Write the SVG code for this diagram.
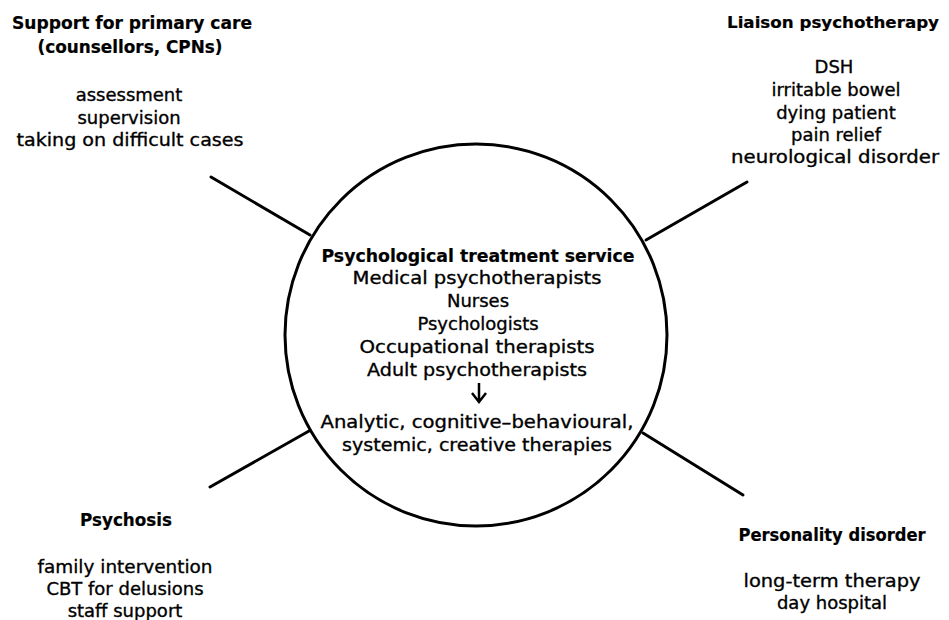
<svg xmlns="http://www.w3.org/2000/svg" width="949" height="620" viewBox="0 0 949 620">
<style>
text{font-family:"DejaVu Sans","Liberation Sans",sans-serif;font-size:18px;fill:#000;text-anchor:middle;stroke:#000;stroke-width:0.35}
.h{font-weight:bold;font-size:18px;stroke-width:0.2}
.ln{stroke:#000;stroke-width:3;fill:none;stroke-linecap:round}
.ar{stroke:#000;stroke-width:2.5;fill:none}
</style>
<rect width="949" height="620" fill="#fff"/>
<g id="connectors">
<line class="ln" x1="211" y1="177" x2="310" y2="235"/>
<line class="ln" x1="747" y1="182" x2="646" y2="240"/>
<line class="ln" x1="210" y1="487" x2="309" y2="431"/>
<line class="ln" x1="743" y1="495" x2="643" y2="433"/>
</g>
<g id="center">
<circle cx="476" cy="335" r="191" fill="none" stroke="#000" stroke-width="3"/>
<text class="h" x="478" y="262" textLength="313" lengthAdjust="spacingAndGlyphs">Psychological treatment service</text>
<text x="477" y="284" textLength="249" lengthAdjust="spacingAndGlyphs">Medical psychotherapists</text>
<text x="478" y="307">Nurses</text>
<text x="478" y="330">Psychologists</text>
<text x="477" y="353" textLength="235" lengthAdjust="spacingAndGlyphs">Occupational therapists</text>
<text x="477" y="376" textLength="220" lengthAdjust="spacingAndGlyphs">Adult psychotherapists</text>
<path class="ar" d="M479 383 V401 M472 393 L479 402 L486 393"/>
<text x="477" y="428" textLength="313" lengthAdjust="spacingAndGlyphs">Analytic, cognitive–behavioural,</text>
<text x="477" y="451" textLength="270" lengthAdjust="spacingAndGlyphs">systemic, creative therapies</text>
</g>
<g id="primary-care">
<text class="h" x="132" y="29" textLength="240" lengthAdjust="spacingAndGlyphs">Support for primary care</text>
<text class="h" x="130" y="53" textLength="185" lengthAdjust="spacingAndGlyphs">(counsellors, CPNs)</text>
<text x="129" y="101">assessment</text>
<text x="129" y="124">supervision</text>
<text x="130" y="146" textLength="227" lengthAdjust="spacingAndGlyphs">taking on difficult cases</text>
</g>
<g id="liaison">
<text class="h" x="833" y="28" style="font-size:16px" textLength="212" lengthAdjust="spacingAndGlyphs">Liaison psychotherapy</text>
<text x="834" y="73">DSH</text>
<text x="836" y="96">irritable bowel</text>
<text x="836" y="119">dying patient</text>
<text x="836" y="141">pain relief</text>
<text x="835" y="163" style="font-size:17px" textLength="208" lengthAdjust="spacingAndGlyphs">neurological disorder</text>
</g>
<g id="psychosis">
<text class="h" x="126" y="526" textLength="92" lengthAdjust="spacingAndGlyphs">Psychosis</text>
<text x="125" y="573" textLength="175" lengthAdjust="spacingAndGlyphs">family intervention</text>
<text x="125" y="595">CBT for delusions</text>
<text x="125" y="617">staff support</text>
</g>
<g id="personality">
<text class="h" x="832" y="541" textLength="187" lengthAdjust="spacingAndGlyphs">Personality disorder</text>
<text x="832" y="587" textLength="177" lengthAdjust="spacingAndGlyphs">long-term therapy</text>
<text x="832" y="609">day hospital</text>
</g>
</svg>
